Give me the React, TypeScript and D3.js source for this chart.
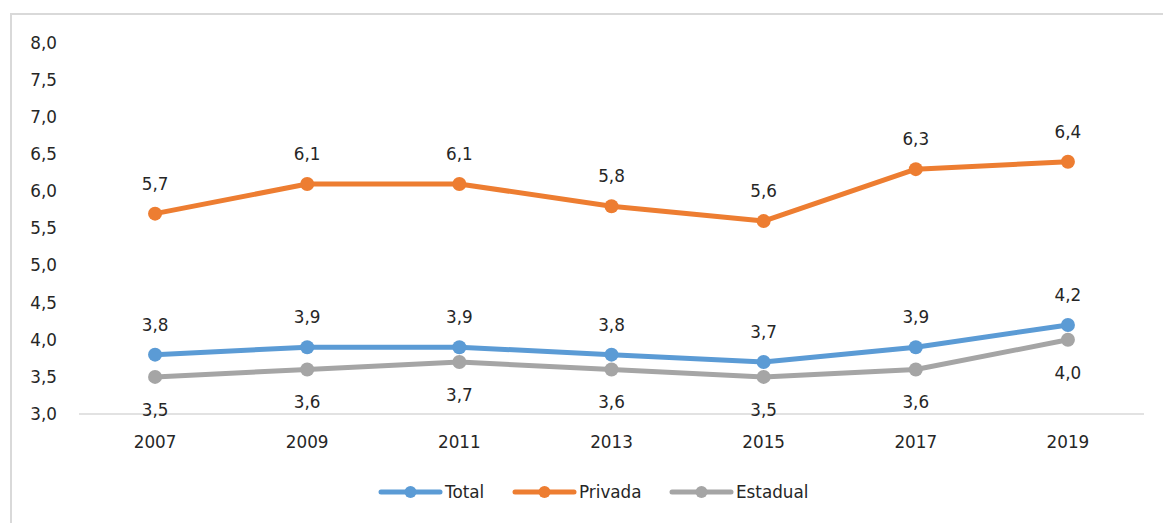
import React from "react";
import * as d3 from "d3";

const years = ["2007", "2009", "2011", "2013", "2015", "2017", "2019"];
const total = [3.8, 3.9, 3.9, 3.8, 3.7, 3.9, 4.2];
const privada = [5.7, 6.1, 6.1, 5.8, 5.6, 6.3, 6.4];
const estadual = [3.5, 3.6, 3.7, 3.6, 3.5, 3.6, 4.0];
const yTicks = [3.0, 3.5, 4.0, 4.5, 5.0, 5.5, 6.0, 6.5, 7.0, 7.5, 8.0];

const series = [
  { name: "Total", values: total, color: "#5B9BD5", labelPos: "above" },
  { name: "Privada", values: privada, color: "#ED7D31", labelPos: "above" },
  { name: "Estadual", values: estadual, color: "#A5A5A5", labelPos: "below" },
];

const W = 1163;
const H = 523;
const FONT = "'DejaVu Sans', Verdana, sans-serif";
const FS = 16.8;
const fmt = (v: number) => v.toFixed(1).replace(".", ",");

export default function App() {
  const x = d3.scaleBand<string>().domain(years).range([79, 1144]);
  const y = d3.scaleLinear().domain([3, 8]).range([414, 43]);
  const cx = (i: number) => (x(years[i]) as number) + x.bandwidth() / 2;
  const line = d3.line<number>().x((_, i) => cx(i));

  const legendItems = [
    { name: "Total", color: "#5B9BD5", x0: 381 },
    { name: "Privada", color: "#ED7D31", x0: 515 },
    { name: "Estadual", color: "#A5A5A5", x0: 672 },
  ];

  return (
    <svg
      width={W}
      height={H}
      style={{ position: "absolute", left: 0, top: 0, background: "#fff" }}
      fontFamily={FONT}
    >
      <rect x={11} y={14} width={1170} height={530} fill="#fff" stroke="#D9D9D9" strokeWidth={2} />
      {yTicks.map((t) => (
        <text key={t} x={57} y={y(t)} dy="0.35em" textAnchor="end" fontSize={FS} fill="#262626">
          {fmt(t)}
        </text>
      ))}
      <line x1={79} x2={1144} y1={414} y2={414} stroke="#D9D9D9" strokeWidth={1.5} />
      {years.map((yr, i) => (
        <text key={yr} x={cx(i)} y={442} dy="0.35em" textAnchor="middle" fontSize={FS} fill="#262626">
          {yr}
        </text>
      ))}
      {series.map((s) => (
        <g key={s.name}>
          <path
            d={line.y((v) => y(v))(s.values) as string}
            fill="none"
            stroke={s.color}
            strokeWidth={5}
            strokeLinejoin="round"
          />
          {s.values.map((v, i) => (
            <circle key={i} cx={cx(i)} cy={y(v)} r={7} fill={s.color} />
          ))}
          {s.values.map((v, i) => (
            <text
              key={"l" + i}
              x={cx(i)}
              y={y(v) + (s.labelPos === "above" ? -30 : 33)}
              dy="0.35em"
              textAnchor="middle"
              fontSize={FS}
              fill="#262626"
            >
              {fmt(v)}
            </text>
          ))}
        </g>
      ))}
      {legendItems.map((l) => (
        <g key={l.name}>
          <line x1={l.x0} x2={l.x0 + 59} y1={492} y2={492} stroke={l.color} strokeWidth={5} strokeLinecap="round" />
          <circle cx={l.x0 + 29.5} cy={492} r={6} fill={l.color} />
          <text x={l.x0 + 64} y={492} dy="0.35em" fontSize={FS} fill="#262626">
            {l.name}
          </text>
        </g>
      ))}
    </svg>
  );
}
